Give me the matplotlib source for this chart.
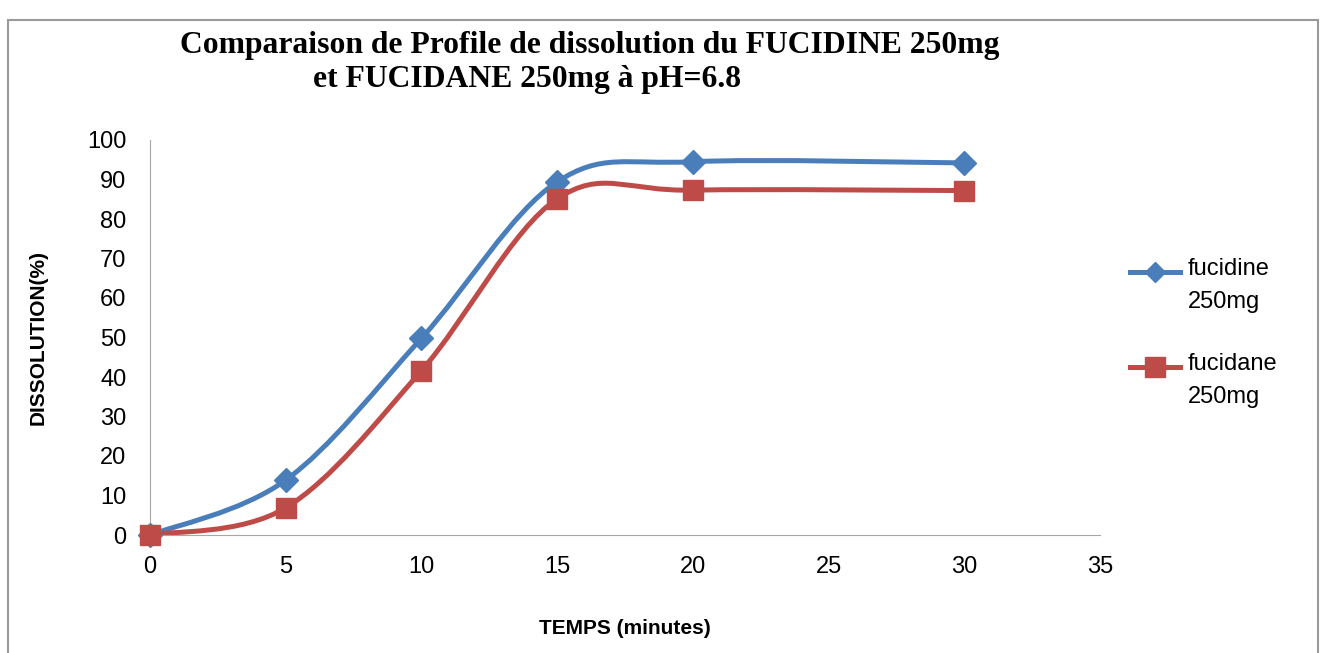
import numpy as np
import matplotlib.pyplot as plt
from matplotlib.path import Path
from matplotlib.patches import PathPatch, Rectangle
from matplotlib.lines import Line2D

temps = [0, 5, 10, 15, 20, 30]
fucidine = [0, 13.9, 49.8, 89.4, 94.5, 94.2]
fucidane = [0, 6.9, 41.6, 85.1, 87.3, 87.2]
labels = ['fucidine\n250mg', 'fucidane\n250mg']
colors = ['#4A7EBB', '#BE4B48']
markers = ['D', 's']

tick_font = ['Liberation Sans Narrow', 'Liberation Sans', 'DejaVu Sans']


def smooth_path(x, y):
    # lissage type Excel : Bezier cubique passant par les points
    pts = np.column_stack([x, y]).astype(float)
    n = len(pts)
    verts = [pts[0]]
    codes = [Path.MOVETO]
    for i in range(n - 1):
        p0 = pts[i - 1] if i > 0 else pts[i]
        p1 = pts[i]
        p2 = pts[i + 1]
        p3 = pts[i + 2] if i + 2 < n else pts[i + 1]
        c1 = p1 + (p2 - p0) / 6.0
        c2 = p2 - (p3 - p1) / 6.0
        verts += [c1, c2, p2]
        codes += [Path.CURVE4] * 3
    return Path(verts, codes)


fig = plt.figure(figsize=(13.25, 6.53), dpi=100)
ax = fig.add_axes([150 / 1325, 1 - 535 / 653, 950 / 1325, 395 / 653])

for ys, c, m in zip([fucidine, fucidane], colors, markers):
    ax.add_patch(PathPatch(smooth_path(temps, ys), facecolor='none',
                           edgecolor=c, lw=3.6, clip_on=False, zorder=2))
    ms = 12 if m == 'D' else 15
    ax.plot(temps, ys, linestyle='none', marker=m, color=c, markersize=ms,
            clip_on=False, zorder=3)

ax.set_xlim(0, 35)
ax.set_ylim(0, 100)
ax.set_xticks(range(0, 36, 5))
ax.set_yticks(range(0, 101, 10))
ax.tick_params(axis='x', length=0, labelsize=17, pad=15)
ax.tick_params(axis='y', length=0, labelsize=17, pad=17)
for t in ax.get_xticklabels() + ax.get_yticklabels():
    t.set_family(tick_font)
ax.spines['top'].set_visible(False)
ax.spines['right'].set_visible(False)
ax.spines['left'].set_color('#a6a6a6')
ax.spines['bottom'].set_color('#a6a6a6')

ax.set_xlabel('TEMPS (minutes)', fontsize=15, fontweight='bold',
              family=tick_font, labelpad=30)
ax.set_ylabel('DISSOLUTION(%)', fontsize=15, fontweight='bold',
              family=tick_font, labelpad=28)

fig.text(180 / 1325, 1 - 45 / 653, 'Comparaison de Profile de dissolution du FUCIDINE 250mg',
         family='Liberation Serif', fontweight='bold', fontsize=22.8, va='center', ha='left')
fig.text(313 / 1325, 1 - 80 / 653, 'et FUCIDANE 250mg à pH=6.8',
         family='Liberation Serif', fontweight='bold', fontsize=22.8, va='center', ha='left')

# légende à droite
leg_y = [272, 367]
for (lab, c, m, yy) in zip(labels, colors, markers, leg_y):
    yf = 1 - yy / 653
    ms = 10 if m == 'D' else 14
    fig.add_artist(Line2D([1130 / 1325, 1180 / 1325], [yf, yf], color=c, lw=3.6,
                          transform=fig.transFigure))
    fig.add_artist(Line2D([1155 / 1325], [yf], color=c, marker=m, markersize=ms,
                          transform=fig.transFigure))
    fig.text(1188 / 1325, yf + 14 / 653, lab, family=tick_font, fontsize=17,
             va='top', ha='left', linespacing=1.65)

fig.add_artist(Rectangle((8 / 1325, -0.05), 1310 / 1325, 1.05 - 20 / 653,
                         transform=fig.transFigure, fill=False,
                         edgecolor='#9a9a9a', lw=1.5))

plt.savefig('out.png', dpi=100)
